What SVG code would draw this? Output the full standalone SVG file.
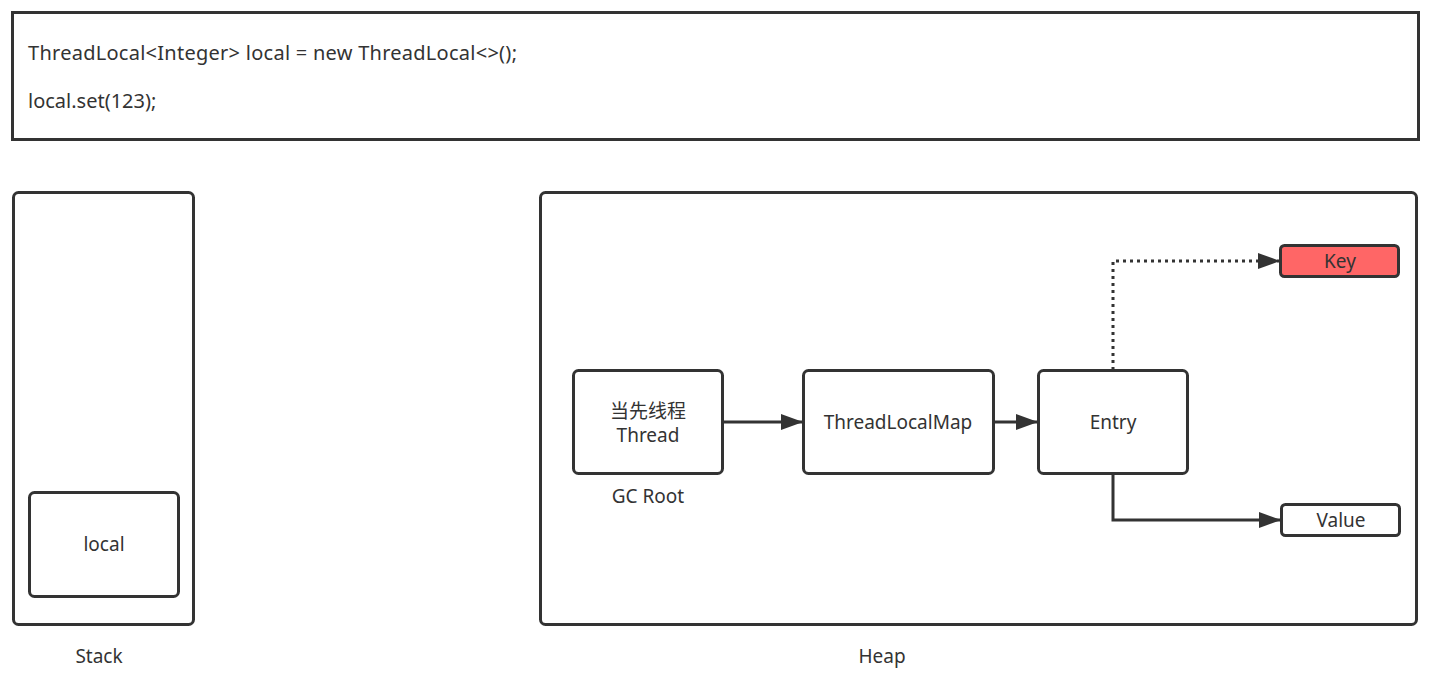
<svg xmlns="http://www.w3.org/2000/svg" width="1440" height="680" viewBox="0 0 1440 680">
<style>
.box{fill:#fff;stroke:#333;stroke-width:3}
.t{font-family:"Noto Sans","Noto Sans CJK SC",sans-serif;font-size:19px;fill:#333}
.code{font-size:20px}
.c{text-anchor:middle}
.ln{fill:none;stroke:#333;stroke-width:3}
</style>
<defs>
<marker id="ah" viewBox="0 0 22 16" refX="22" refY="8" markerWidth="22" markerHeight="16" markerUnits="userSpaceOnUse" orient="auto">
<path d="M0,0 L22,8 L0,16 Z" fill="#333"/>
</marker>
</defs>
<rect width="1440" height="680" fill="#fff"/>
<g id="code">
<rect x="12.5" y="12.5" width="1406" height="127" fill="#fff" stroke="#333" stroke-width="3"/>
<text class="t code" x="28" y="60" textLength="489" lengthAdjust="spacing">ThreadLocal&lt;Integer&gt; local = new ThreadLocal&lt;&gt;();</text>
<text class="t code" x="28" y="108">local.set(123);</text>
</g>
<g id="stack">
<rect class="box" x="13.5" y="192.5" width="180" height="432" rx="5"/>
<text class="t c" x="99" y="663">Stack</text>
</g>
<g id="local">
<rect class="box" x="29.5" y="492.5" width="149" height="104" rx="5"/>
<text class="t c" x="104" y="551">local</text>
</g>
<g id="heap">
<rect class="box" x="540.5" y="192.5" width="876" height="432" rx="5"/>
<text class="t c" x="882" y="663">Heap</text>
</g>
<g id="thread">
<rect class="box" x="573.5" y="370.5" width="149" height="103" rx="5"/>
<text class="t c" x="648" y="418">当先线程</text>
<text class="t c" x="648" y="442">Thread</text>
<text class="t c" x="648" y="503">GC Root</text>
</g>
<g id="tlm">
<rect class="box" x="803.5" y="370.5" width="190" height="103" rx="5"/>
<text class="t c" x="898" y="429">ThreadLocalMap</text>
</g>
<g id="entry">
<rect class="box" x="1038.5" y="370.5" width="149" height="103" rx="5"/>
<text class="t c" x="1113" y="429">Entry</text>
</g>
<g id="key">
<rect x="1280.5" y="245.5" width="118" height="31" rx="4" fill="#FF6666" stroke="#333" stroke-width="3"/>
<text class="t c" x="1340" y="268">Key</text>
</g>
<g id="value">
<rect class="box" x="1281.5" y="504.5" width="118" height="31" rx="4"/>
<text class="t c" x="1341" y="527">Value</text>
</g>
<g id="connectors">
<path class="ln" d="M723,422 L803,422" marker-end="url(#ah)"/>
<path class="ln" d="M994,422 L1038,422" marker-end="url(#ah)"/>
<path class="ln" d="M1113,370 L1113,261 L1280,261" stroke-dasharray="3,4" marker-end="url(#ah)"/>
<path class="ln" d="M1113,474 L1113,520 L1281,520" marker-end="url(#ah)"/>
</g>
</svg>
